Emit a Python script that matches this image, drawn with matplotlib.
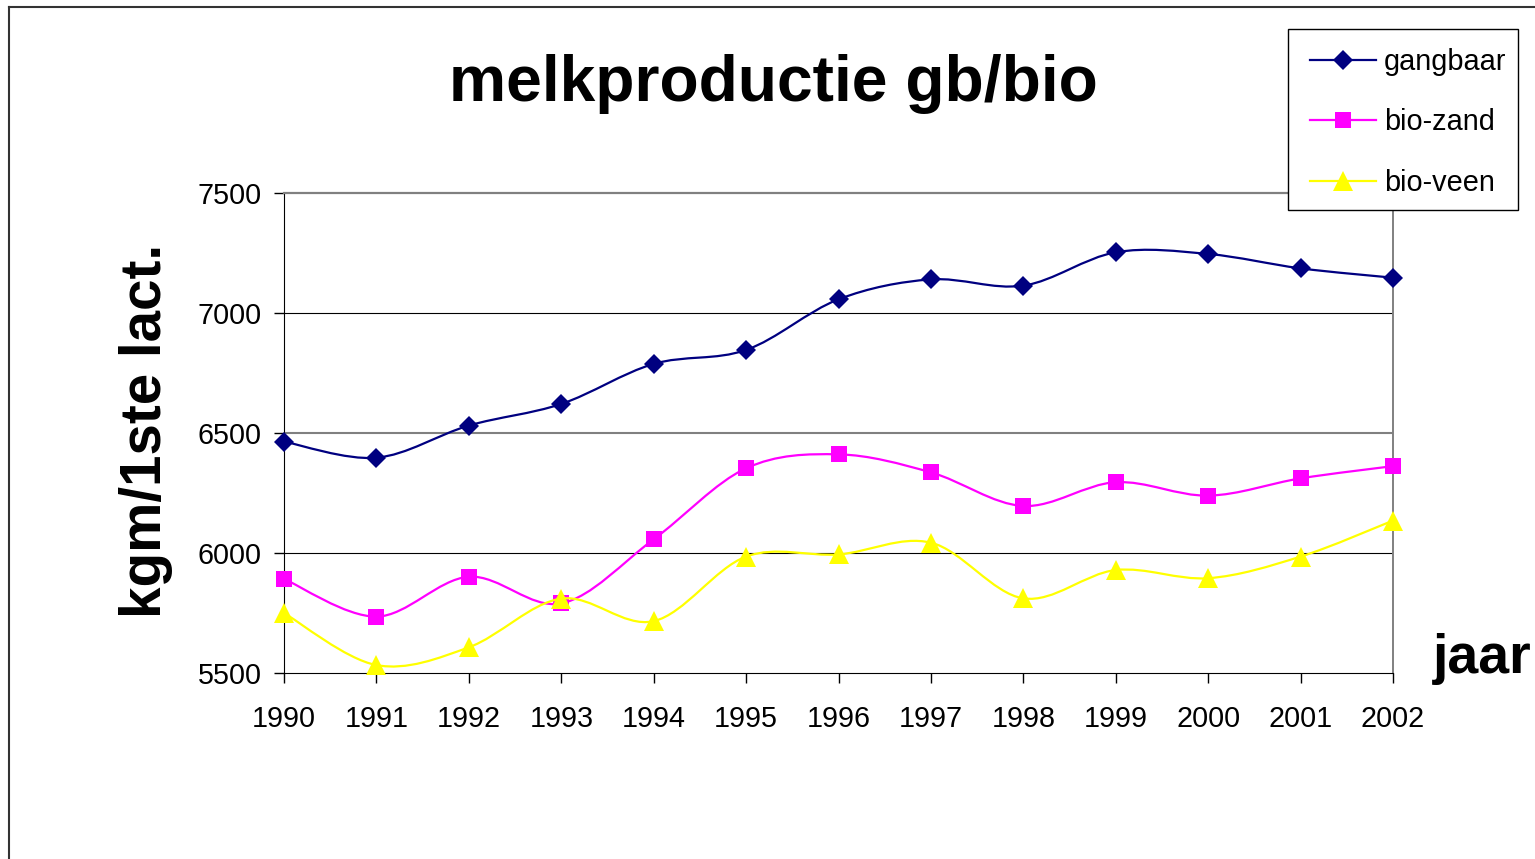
import matplotlib
matplotlib.use("Agg")
import matplotlib.pyplot as plt
from matplotlib.path import Path
from matplotlib.patches import PathPatch, Rectangle
from matplotlib.lines import Line2D

plt.rcParams["font.family"] = ["Liberation Sans", "DejaVu Sans"]

# data
years = [1990, 1991, 1992, 1993, 1994, 1995, 1996, 1997, 1998, 1999, 2000, 2001, 2002]
gangbaar = [6464, 6397, 6531, 6621, 6788, 6846, 7057, 7140, 7114, 7253, 7246, 7186, 7147]
bio_zand = [5892, 5735, 5901, 5790, 6057, 6353, 6411, 6336, 6196, 6295, 6239, 6311, 6362]
bio_veen = [5750, 5533, 5607, 5810, 5716, 5985, 5994, 6043, 5811, 5929, 5895, 5985, 6135]
y_ticks = [5500, 6000, 6500, 7000, 7500]

W, H = 1535, 859


def smooth_path(xs, ys):
    # Excel-style smoothed line: cubic Bezier through every point
    n = len(xs)
    verts = [(xs[0], ys[0])]
    codes = [Path.MOVETO]
    for i in range(n - 1):
        p0 = max(i - 1, 0)
        p3 = min(i + 2, n - 1)
        c1 = (xs[i] + (xs[i + 1] - xs[p0]) / 6, ys[i] + (ys[i + 1] - ys[p0]) / 6)
        c2 = (xs[i + 1] - (xs[p3] - xs[i]) / 6, ys[i + 1] - (ys[p3] - ys[i]) / 6)
        verts += [c1, c2, (xs[i + 1], ys[i + 1])]
        codes += [Path.CURVE4] * 3
    return Path(verts, codes)


fig = plt.figure(figsize=(W / 100, H / 100), dpi=100)
ax = fig.add_axes([284 / W, 1 - 673 / H, (1393 - 284) / W, (673 - 193) / H])

series = [
    ("gangbaar", gangbaar, "#000080", "D", 9.8),
    ("bio-zand", bio_zand, "#FF00FF", "s", 11.5),
    ("bio-veen", bio_veen, "#FFFF00", "^", 14),
]

# gridlines
for v in [6000, 7000]:
    ax.axhline(v, color="black", lw=0.8, zorder=1)
ax.axhline(6500, color="#808080", lw=1.5, zorder=1)

handles = []
for k, (name, vals, col, mk, ms) in enumerate(series):
    ax.add_patch(PathPatch(smooth_path(years, vals), fill=False, edgecolor=col,
                           lw=1.6, zorder=3 + 2 * k, clip_on=False))
    ax.plot(years, vals, linestyle="none", marker=mk, markersize=ms,
            color=col, markeredgewidth=0, zorder=4 + 2 * k, clip_on=False)
    handles.append(Line2D([], [], color=col, lw=1.6, marker=mk, markersize=ms,
                          markeredgewidth=0, label=name))

ax.set_xlim(1990, 2002)
ax.set_ylim(5500, 7500)
ax.set_xticks(years)
ax.set_yticks(y_ticks)
ax.tick_params(axis="both", direction="out", length=7, width=1, color="black",
               labelsize=20.7)
ax.tick_params(axis="x", pad=16)
ax.tick_params(axis="y", pad=9)

ax.spines["top"].set_color("#808080")
ax.spines["top"].set_linewidth(1.6)
ax.spines["right"].set_color("#808080")
ax.spines["right"].set_linewidth(1.4)
ax.spines["left"].set_color("black")
ax.spines["bottom"].set_color("black")

# texts
fig.text(773.5 / W, 1 - 101 / H, "melkproductie gb/bio", ha="center", va="baseline",
         fontsize=46.2, fontweight="bold")
fig.text(146 / W, 1 - 431 / H, "kgm/1ste lact.", rotation=90, ha="center", va="center",
         fontsize=40.7, fontweight="bold")
fig.text(1433 / W, 1 - 673 / H, "jaar", ha="left", va="baseline",
         fontsize=40, fontweight="bold")

# legend: white box drawn separately (covers the plot border), entries on top
fig.add_artist(Rectangle((1287.5 / W, 1 - 210 / H), (1518 - 1287.5) / W, (210 - 29) / H,
                         transform=fig.transFigure, facecolor="white",
                         edgecolor="black", lw=1.0, zorder=5))
leg = fig.legend(handles=handles, loc="upper left",
                 bbox_to_anchor=(1310 / W, 1 - 48 / H), borderaxespad=0,
                 fontsize=20.8, frameon=False, borderpad=0,
                 labelspacing=1.12, handlelength=2.3, handletextpad=0.25)
leg.set_zorder(6)

# outer chart border (only left and top visible)
fig.add_artist(Line2D([8.5 / W, 8.5 / W], [0, 1 - 7 / H], color="#333333", lw=1.5))
fig.add_artist(Line2D([8.5 / W, 1], [1 - 7 / H, 1 - 7 / H], color="#333333", lw=1.5))

fig.savefig("out.png", dpi=100)
